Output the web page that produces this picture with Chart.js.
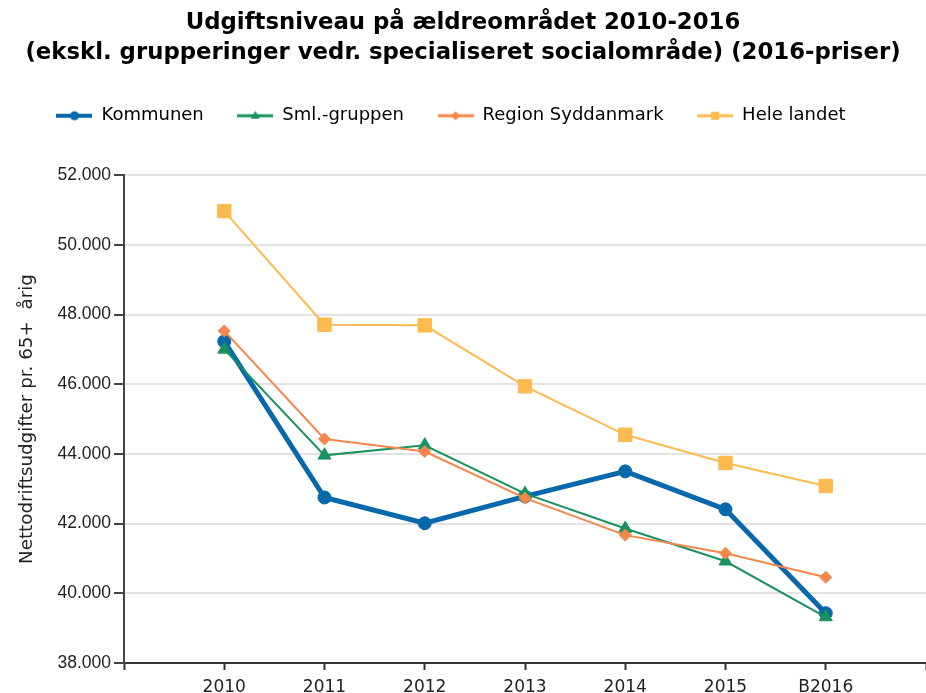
<!DOCTYPE html>
<html>
<head>
<meta charset="utf-8">
<script src="https://cdn.jsdelivr.net/npm/chart.js@4/dist/chart.umd.min.js"></script>
<style>
  html, body { margin: 0; padding: 0; background: #ffffff; }
  #wrap { width: 926px; height: 693px; position: relative; }
</style>
</head>
<body>
<div id="wrap"><canvas id="c" width="926" height="693"></canvas></div>
<script>
// ---- data ----
const titleLines = ['Udgiftsniveau på ældreområdet 2010-2016', '(ekskl. grupperinger vedr. specialiseret socialområde) (2016-priser)'];
const yAxisTitle = 'Nettodriftsudgifter pr. 65+  årig';
const categories = ['2010', '2011', '2012', '2013', '2014', '2015', 'B2016'];
const seriesNames = ['Kommunen', 'Sml.-gruppen', 'Region Syddanmark', 'Hele landet'];
const kommunen   = [47230, 42750, 42010, 42780, 43500, 42410, 39430];
const smlGruppen = [47000, 43960, 44250, 42860, 41860, 40920, 39320];
const regionSyd  = [47530, 44430, 44070, 42730, 41670, 41150, 40460];
const heleLandet = [50970, 47710, 47690, 45940, 44550, 43740, 43080];
const yMin = 38000, yMax = 52000, yStep = 2000;

// ---- styles ----
const colors = ['#0868ac', '#18935f', '#f4874b', '#fdbb4f'];
const lineWidths = [5, 2, 2, 2];
const pointStyles = ['circle', 'triangle', 'rectRot', 'rect'];
const pointRadii = [6.5, 7.5, 6, 9.5];
const drawOrder = [4, 3, 2, 1];
const legendLineW = [4, 3, 3, 3];

function fmt(v) { return String(v).replace(/\B(?=(\d{3})+(?!\d))/g, '.'); }

function legendIcon(i) {
  const cv = document.createElement('canvas');
  cv.width = 36; cv.height = 14;
  const g = cv.getContext('2d');
  const cy = 7;
  g.strokeStyle = colors[i]; g.fillStyle = colors[i];
  g.lineWidth = legendLineW[i];
  g.beginPath(); g.moveTo(0, cy); g.lineTo(36, cy); g.stroke();
  g.beginPath();
  if (pointStyles[i] === 'circle') { g.arc(18, cy, 4.5, 0, Math.PI * 2); }
  else if (pointStyles[i] === 'triangle') { g.moveTo(18, cy - 5); g.lineTo(22.5, cy + 3); g.lineTo(13.5, cy + 3); g.closePath(); }
  else if (pointStyles[i] === 'rectRot') { g.moveTo(18, cy - 4.5); g.lineTo(22.5, cy); g.lineTo(18, cy + 4.5); g.lineTo(13.5, cy); g.closePath(); }
  else { g.rect(14, cy - 4, 8, 8); }
  g.fill();
  return cv;
}

const seriesValues = [kommunen, smlGruppen, regionSyd, heleLandet];
const datasets = seriesValues.map((vals, i) => ({
  label: seriesNames[i],
  data: categories.map((c, k) => ({ x: c, y: vals[k] })),
  borderColor: colors[i],
  backgroundColor: colors[i],
  borderWidth: lineWidths[i],
  pointStyle: pointStyles[i],
  pointRadius: pointRadii[i],
  pointBorderWidth: 1,
  pointBackgroundColor: colors[i],
  pointBorderColor: colors[i],
  tension: 0,
  order: drawOrder[i]
}));

const LEGEND_EXTRA = 40.5;
const LEGEND_SHIFT = -12;
const layoutTweak = {
  id: 'layoutTweak',
  beforeLayout(chart) {
    const lg = chart.legend;
    if (lg && !lg._tweaked) {
      const fit = lg.fit;
      lg.fit = function () { fit.call(this); this.height += LEGEND_EXTRA; };
      lg._tweaked = true;
    }
  },
  afterLayout(chart) {
    const lg = chart.legend;
    if (lg) { lg.left += LEGEND_SHIFT; lg.right += LEGEND_SHIFT; }
  }
};

new Chart(document.getElementById('c'), {
  type: 'line',
  data: { labels: ['', ...categories, ' '], datasets },
  plugins: [layoutTweak],
  options: {
    responsive: false,
    animation: false,
    layout: { autoPadding: false, padding: { left: 0, right: 0, top: 0, bottom: 0 } },
    plugins: {
      tooltip: { enabled: false },
      title: {
        display: true,
        text: titleLines,
        color: '#000000',
        font: { family: 'DejaVu Sans', size: 22.8, weight: 'bold', lineHeight: 1.32 },
        padding: { top: 8, bottom: 5 }
      },
      legend: {
        display: true,
        position: 'top',
        labels: {
          usePointStyle: true,
          pointStyleWidth: 36,
          padding: 33.5,
          color: '#222222',
          font: { family: 'DejaVu Sans', size: 18 },
          generateLabels() {
            return seriesNames.map((n, i) => ({
              text: n,
              pointStyle: legendIcon(i),
              fillStyle: colors[i],
              strokeStyle: colors[i],
              lineWidth: 0,
              hidden: false,
              datasetIndex: i
            }));
          }
        }
      }
    },
    scales: {
      x: {
        type: 'category',
        offset: false,
        border: { display: true, color: '#333333', width: 2 },
        grid: { display: true, drawOnChartArea: false, drawTicks: true, tickLength: 7, tickColor: '#333333', tickWidth: 2 },
        ticks: { color: '#222222', font: { family: 'DejaVu Sans', size: 17 }, padding: 7, maxRotation: 0, autoSkip: false },
        afterFit(scale) { scale.height = 30; scale.paddingLeft = 0; scale.paddingRight = 0; }
      },
      y: {
        min: yMin, max: yMax,
        border: { display: true, color: '#444444', width: 2 },
        grid: { color: '#e2e2e2', lineWidth: 2, tickLength: 10, tickColor: '#444444', tickWidth: 2 },
        ticks: { stepSize: yStep, color: '#222222', font: { family: 'Liberation Sans', size: 17.5 }, padding: 3, callback: (v) => fmt(v) },
        title: { display: true, text: yAxisTitle, color: '#222222', font: { family: 'DejaVu Sans', size: 18.3 }, padding: { top: 16, bottom: 0 } },
        afterFit(scale) { scale.width = 124; }
      }
    }
  }
});
</script>
</body>
</html>
